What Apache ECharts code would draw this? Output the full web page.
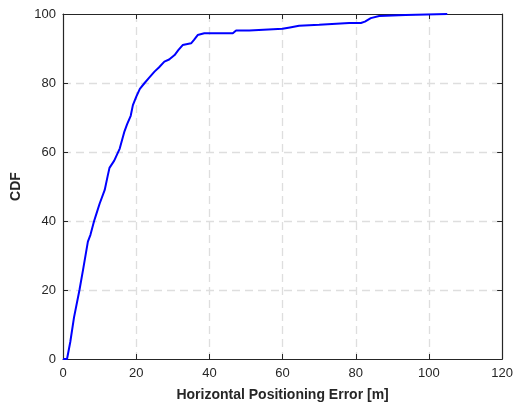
<!DOCTYPE html>
<html>
<head>
<meta charset="utf-8">
<script src="https://cdn.jsdelivr.net/npm/echarts@6/dist/echarts.min.js"></script>
<style>
html, body { margin: 0; padding: 0; background: #fff; }
#chart { width: 516px; height: 407px; }
</style>
</head>
<body>
<div id="chart"></div>
<script>
// horizontal error [m] and CDF [%]
var errX = [0, 1.1, 2, 3, 4.5, 5.5, 6.8, 7.5, 8.5, 9.1, 10, 11.4, 12.2, 12.7, 14, 15.5, 16.8, 17.5, 18.5, 19.1,
  20, 21, 22.3, 23.5, 25, 26.2, 27.7, 29, 30.5, 31.5, 32.7, 35, 35.8, 36.8, 38.6, 46.4, 47.3, 50.9, 51.4, 60,
  62, 64.5, 70, 78.2, 81.4, 82.5, 84.1, 86.4, 93.6, 105];
var cdfY = [0, 0, 5, 12, 20, 26, 34, 36, 40, 42, 45, 49, 53, 55.4, 57.5, 61, 66, 68, 70.5, 73.6,
  76, 78.3, 80, 81.5, 83.3, 84.5, 86.2, 86.8, 88.1, 89.5, 91, 91.5, 92.5, 93.9, 94.4, 94.4, 95.2, 95.2, 95.7, 95.7,
  96.1, 96.6, 96.9, 97.4, 97.4, 97.8, 98.8, 99.4, 99.7, 100];
var xTicks = [0, 20, 40, 60, 80, 100, 120];
var yTicks = [0, 20, 40, 60, 80, 100];

var pts = [];
for (var i = 0; i < errX.length; i++) {
  pts.push([errX[i], cdfY[i]]);
}

var chart = echarts.init(document.getElementById('chart'));
var font = 'Liberation Sans, Arial, Helvetica, sans-serif';
var tickStyle = { inside: true, length: 5, lineStyle: { color: '#262626', width: 1 } };
var gridLine = { show: true, showMinLine: false, showMaxLine: false, lineStyle: { color: '#dedede', type: [8, 5], width: 1.3 } };
var boxLine = { show: true, onZero: false, lineStyle: { color: '#262626', width: 1.2 } };

chart.setOption({
  animation: false,
  grid: { left: 63, right: 13, top: 14, bottom: 48 },
  xAxis: [
    {
      type: 'value', min: xTicks[0], max: xTicks[xTicks.length - 1], interval: 20,
      name: 'Horizontal Positioning Error [m]', nameLocation: 'middle', nameGap: 29,
      nameTextStyle: { fontFamily: font, fontWeight: 'bold', fontSize: 14, color: '#262626' },
      axisLine: boxLine,
      axisTick: tickStyle,
      axisLabel: { fontFamily: font, fontSize: 13, color: '#262626', margin: 8 },
      splitLine: gridLine
    },
    {
      type: 'value', position: 'top', min: 0, max: 120, interval: 20,
      axisLine: boxLine, axisTick: tickStyle, axisLabel: { show: false }, splitLine: { show: false }
    }
  ],
  yAxis: [
    {
      type: 'value', min: yTicks[0], max: yTicks[yTicks.length - 1], interval: 20,
      name: 'CDF', nameLocation: 'middle', nameGap: 36,
      nameTextStyle: { fontFamily: font, fontWeight: 'bold', fontSize: 14, color: '#262626' },
      axisLine: boxLine,
      axisTick: tickStyle,
      axisLabel: { fontFamily: font, fontSize: 13, color: '#262626', margin: 7 },
      splitLine: gridLine
    },
    {
      type: 'value', position: 'right', min: 0, max: 100, interval: 20,
      axisLine: boxLine, axisTick: tickStyle, axisLabel: { show: false }, splitLine: { show: false }
    }
  ],
  series: [
    {
      type: 'line',
      data: pts,
      showSymbol: false,
      lineStyle: { color: '#0000ff', width: 2 },
      itemStyle: { color: '#0000ff' }
    }
  ]
});
</script>
</body>
</html>
